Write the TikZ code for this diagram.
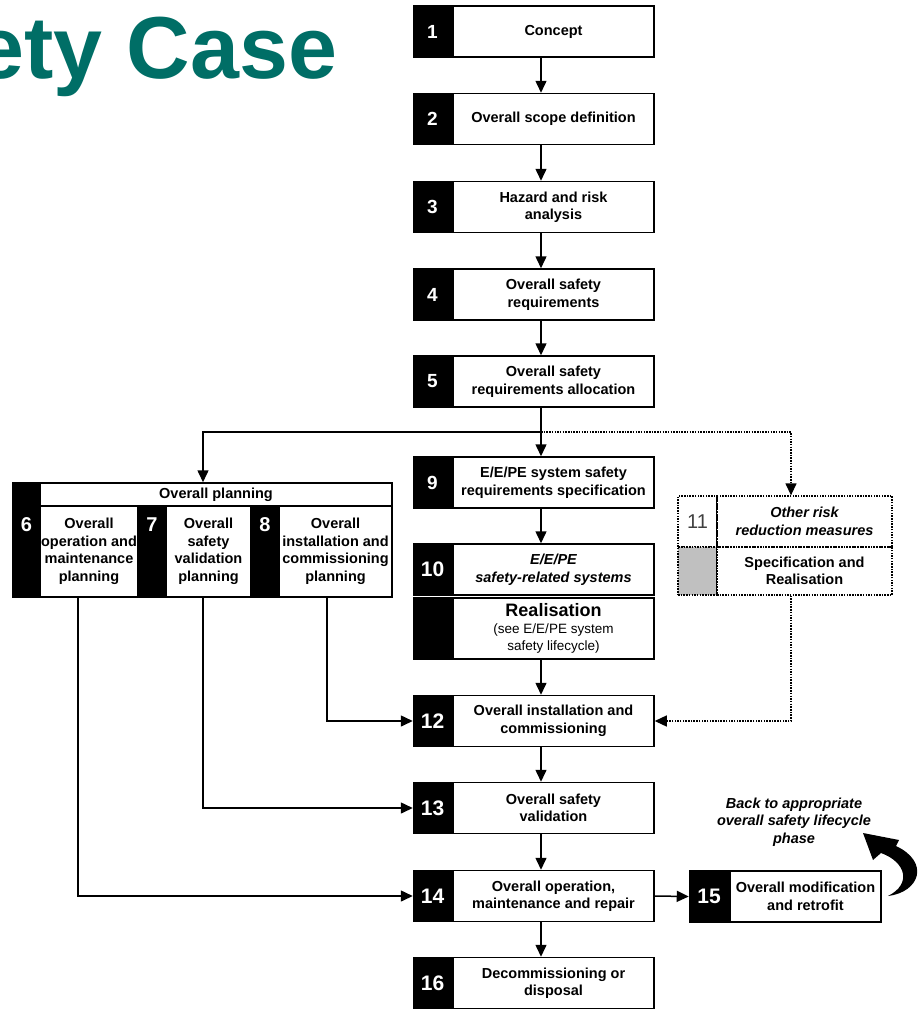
\documentclass[tikz,border=0pt]{standalone}
\usepackage{fontspec}
\setmainfont{Liberation Sans}
\usetikzlibrary{arrows.meta}

\definecolor{caseteal}{RGB}{0,110,102}
\definecolor{blockgrey}{RGB}{192,192,192}

\tikzset{
  stage/.style={draw, line width=1.5pt, fill=white, minimum height=51pt, minimum width=201pt,
    align=center, inner sep=1pt, font=\fontsize{14.5}{17.5}\selectfont\bfseries},
  numblk/.style={draw, line width=1.5pt, fill=black, text=white, minimum height=51pt,
    minimum width=38pt, inner sep=0pt, font=\fontsize{19}{19}\selectfont\bfseries},
  bignum/.style={numblk, font=\fontsize{21}{21}\selectfont\bfseries},
  flow/.style={line width=1.5pt, -{Triangle[length=12pt,width=11pt]}},
  dotflow/.style={line width=1.3pt, dash pattern=on 1.5pt off 1.2pt, -{Triangle[length=12pt,width=11pt]}},
  dotbox/.style={draw, line width=1.3pt, dash pattern=on 1.5pt off 1.2pt, align=center, inner sep=1pt},
}

\begin{document}
\begin{tikzpicture}[x=1pt, y=-1pt]
  \clip (0,0) rectangle (919,1009);
  \node[font=\fontsize{88}{88}\selectfont\bfseries, text=caseteal, anchor=base east] (title) at (341,78) {Safety Case};

  % main column
  \node[stage] (s1) at (553.5,31.5) {Concept};
  \node[numblk, anchor=east] (n1) at (s1.west) {1};
  \node[stage] (s2) at (553.5,119) {Overall scope definition};
  \node[numblk, anchor=east] (n2) at (s2.west) {2};
  \node[stage] (s3) at (553.5,207) {Hazard and risk\\analysis};
  \node[numblk, anchor=east] (n3) at (s3.west) {3};
  \node[stage] (s4) at (553.5,294.5) {Overall safety\\requirements};
  \node[numblk, anchor=east] (n4) at (s4.west) {4};
  \node[stage] (s5) at (553.5,381.5) {Overall safety\\requirements allocation};
  \node[numblk, anchor=east] (n5) at (s5.west) {5};
  \node[stage] (s9) at (553.5,482.5) {E/E/PE system safety\\requirements specification};
  \node[numblk, anchor=east] (n9) at (s9.west) {9};
  \node[stage, font=\fontsize{14.5}{17.5}\selectfont\bfseries\itshape] (s10) at (553.5,569.5) {E/E/PE\\safety-related systems};
  \node[bignum, anchor=east] (n10) at (s10.west) {10};
  \node[stage, minimum height=61pt, font=\fontsize{13.5}{17}\selectfont] (s10b) at (553.5,628.5)
    {{\fontsize{18}{19}\selectfont\bfseries Realisation}\\(see E/E/PE system\\safety lifecycle)};
  \node[numblk, minimum height=61pt, anchor=east] (n10b) at (s10b.west) {};
  \node[stage] (s12) at (553.5,721) {Overall installation and\\commissioning};
  \node[bignum, anchor=east] (n12) at (s12.west) {12};
  \node[stage] (s13) at (553.5,808) {Overall safety\\validation};
  \node[bignum, anchor=east] (n13) at (s13.west) {13};
  \node[stage] (s14) at (553.5,896) {Overall operation,\\maintenance and repair};
  \node[bignum, anchor=east] (n14) at (s14.west) {14};
  \node[stage] (s16) at (553.5,983) {Decommissioning or\\disposal};
  \node[bignum, anchor=east] (n16) at (s16.west) {16};

  \node[stage, minimum width=151pt] (s15) at (805.5,896.5) {Overall modification\\and retrofit};
  \node[bignum, minimum width=39pt, anchor=east] (n15) at (s15.west) {15};

  % overall planning
  \node[numblk, minimum width=27pt, minimum height=23pt] (nplan) at (26.5,494.5) {};
  \node[stage, minimum width=352pt, minimum height=23pt] (plan) at (216,494.5) {Overall planning};
  \node[numblk, minimum width=27pt, minimum height=91pt] (b6) at (26.5,551.5) {};
  \node[stage, minimum width=98pt, minimum height=91pt] (p6) at (89,551.5) {Overall\\operation and\\maintenance\\planning};
  \node[numblk, minimum width=28pt, minimum height=91pt] (b7) at (152,551.5) {};
  \node[stage, minimum width=85pt, minimum height=91pt] (p7) at (208.5,551.5) {Overall\\safety\\validation\\planning};
  \node[numblk, minimum width=28pt, minimum height=91pt] (b8) at (265,551.5) {};
  \node[stage, minimum width=113pt, minimum height=91pt] (p8) at (335.5,551.5) {Overall\\installation and\\commissioning\\planning};
  \node[text=white, font=\fontsize{20}{20}\selectfont\bfseries, anchor=north] (d6) at ([yshift=-9pt]b6.north) {6};
  \node[text=white, font=\fontsize{20}{20}\selectfont\bfseries, anchor=north] (d7) at ([yshift=-9pt]b7.north) {7};
  \node[text=white, font=\fontsize{20}{20}\selectfont\bfseries, anchor=north] (d8) at ([yshift=-9pt]b8.north) {8};

  % other risk reduction
  \node[dotbox, minimum width=39pt, minimum height=51pt, text=black!75, font=\fontsize{20}{20}\selectfont] (n11) at (697.5,521.5) {11};
  \node[dotbox, fill=blockgrey, minimum width=39pt, minimum height=48pt] (g11) at (697.5,571) {};
  \node[dotbox, minimum width=175pt, minimum height=51pt, font=\fontsize{14.5}{17.5}\selectfont\bfseries\itshape] (o11) at (804.5,521.5) {Other risk\\reduction measures};
  \node[dotbox, minimum width=175pt, minimum height=48pt, font=\fontsize{14.5}{17.5}\selectfont\bfseries] (r11) at (804.5,571) {Specification and\\Realisation};
  \draw[line width=1.5pt] (o11.north west) -- (r11.south west);

  \node[font=\fontsize{14.5}{17.5}\selectfont\bfseries\itshape, align=center] (back) at (794,822) {Back to appropriate\\overall safety lifecycle\\phase};

  % connectors
  \coordinate (spine) at (541,0);
  \coordinate (split) at (541,432);
  \coordinate (tap6) at (78,0);
  \coordinate (tap7) at (203,0);
  \coordinate (tap8) at (327,0);
  \coordinate (tap11) at (791,0);
  \foreach \a/\b in {s1/s2,s2/s3,s3/s4,s4/s5,s5/s9,s9/s10,s10b/s12,s12/s13,s13/s14,s14/s16}
    \draw[flow] (\a.south -| spine) -- (\b.north -| spine);
  \draw[flow] (split) -| (plan.north -| tap7);
  \draw[dotflow] (split) -| (o11.north -| tap11);
  \draw[dotflow] (r11.south -| tap11) |- (s12.east);
  \draw[flow] (p8.south -| tap8) |- (n12.west);
  \draw[flow] (p7.south -| tap7) |- (n13.west);
  \draw[flow] (p6.south -| tap6) |- (n14.west);
  \draw[flow] (s14.east) -- (n15.west);

  % back arrow
  \fill (888,896) .. controls (920,892) and (930,862) .. (896,846) -- (899,840) -- (863,833)
    -- (873,860) -- (881,853) .. controls (906,862) and (912,884) .. (888,896) -- cycle;
\end{tikzpicture}
\end{document}
